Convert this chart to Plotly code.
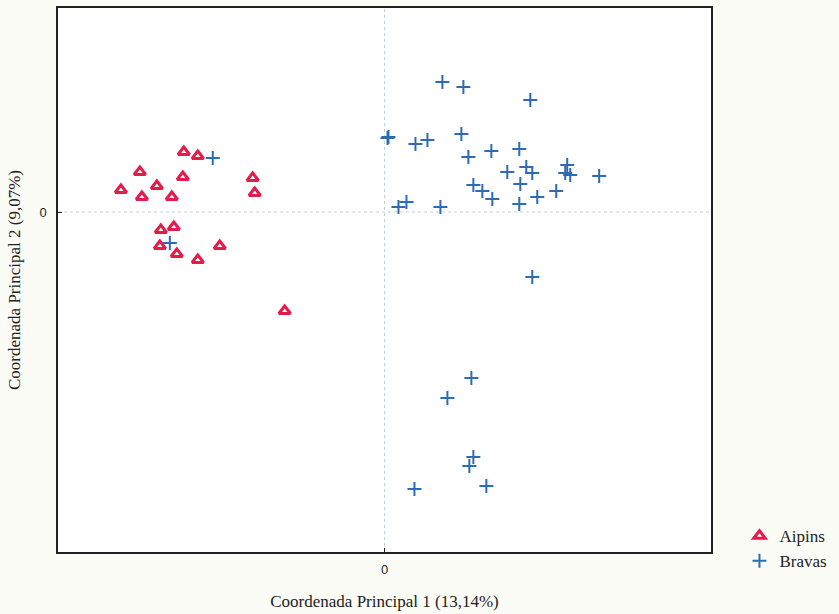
import plotly.graph_objects as go

# Principal coordinates (arbitrary units, origin at 0,0)
aipins_x = [-2.01, -1.87, -2.45, -2.02, -2.28, -2.64, -2.43, -2.13, -1.32, -1.30,
            -2.11, -2.24, -2.25, -2.08, -1.87, -1.65, -1.00]
aipins_y = [0.60, 0.56, 0.40, 0.35, 0.26, 0.22, 0.15, 0.15, 0.34, 0.19,
            -0.15, -0.18, -0.34, -0.42, -0.48, -0.34, -0.99]

bravas_x = [-1.72, -2.15,
            0.58, 0.79, 1.46, 0.04, 0.03, 0.31, 0.43, 0.77, 0.84, 1.07, 1.35,
            1.23, 1.42, 1.48, 1.83, 1.81, 1.86, 2.15, 1.36, 0.89, 0.98, 1.08,
            1.35, 1.53, 1.72, 0.14, 0.22, 0.56,
            1.48, 0.87, 0.63, 0.89, 0.85, 1.02, 0.30]
bravas_y = [0.54, -0.31,
            1.30, 1.25, 1.12, 0.75, 0.74, 0.68, 0.72, 0.78, 0.55, 0.61, 0.63,
            0.40, 0.45, 0.39, 0.47, 0.39, 0.37, 0.36, 0.28, 0.27, 0.21, 0.13,
            0.08, 0.15, 0.21, 0.05, 0.10, 0.05,
            -0.65, -1.66, -1.86, -2.45, -2.54, -2.74, -2.77]

x_range = [-3.27, 3.27]
y_range = [-3.40, 2.04]

fig = go.Figure()
fig.add_trace(go.Scatter(
    x=aipins_x, y=aipins_y, mode="markers", name="Aipins",
    marker=dict(symbol="triangle-up-open", size=10, color="#e31c4c",
                line=dict(width=3, color="#e31c4c")),
))
fig.add_trace(go.Scatter(
    x=bravas_x, y=bravas_y, mode="markers", name="Bravas",
    marker=dict(symbol="cross-thin", size=10, color="#2d6cb4",
                line=dict(width=2, color="#2d6cb4")),
))

# dotted zero lines
fig.add_shape(type="line", xref="x", yref="paper", x0=0, x1=0, y0=0, y1=1,
              line=dict(color="#c2cfdb", width=1, dash="dot"), layer="below")
fig.add_shape(type="line", xref="paper", yref="y", x0=0, x1=1, y0=0, y1=0,
              line=dict(color="#c2cfdb", width=1, dash="dot"), layer="below")

serif = "Liberation Serif, Times New Roman, serif"
fig.update_layout(
    width=839, height=614,
    margin=dict(l=58, r=127, t=8, b=62),
    paper_bgcolor="#fcfcf6",
    plot_bgcolor="#ffffff",
    showlegend=True,
    legend=dict(x=1.042, xanchor="left", y=-0.05, yanchor="bottom",
                font=dict(family=serif, size=17, color="#222222"),
                bgcolor="rgba(0,0,0,0)", itemwidth=30, tracegroupgap=0),
    xaxis=dict(range=x_range, tickvals=[0], ticktext=["0"], showgrid=False,
               zeroline=False, showline=True, linecolor="#222222", linewidth=1.5,
               mirror=True, ticks="inside", ticklen=4, tickcolor="#222222",
               ticklabelstandoff=5, automargin=False,
               tickfont=dict(family="Liberation Sans, Arial, sans-serif", size=13, color="#222222"),
               title=dict(text="Coordenada Principal 1 (13,14%)",
                          font=dict(family=serif, size=17, color="#222222"), standoff=19)),
    yaxis=dict(range=y_range, tickvals=[0], ticktext=["0"], showgrid=False,
               zeroline=False, showline=True, linecolor="#222222", linewidth=1.5,
               mirror=True, ticks="inside", ticklen=4, tickcolor="#222222",
               ticklabelstandoff=7, automargin=False,
               tickfont=dict(family="Liberation Sans, Arial, sans-serif", size=13, color="#222222"),
               title=dict(text="Coordenada Principal 2 (9,07%)",
                          font=dict(family=serif, size=17, color="#222222"), standoff=14)),
)

fig.write_html("out.html")
